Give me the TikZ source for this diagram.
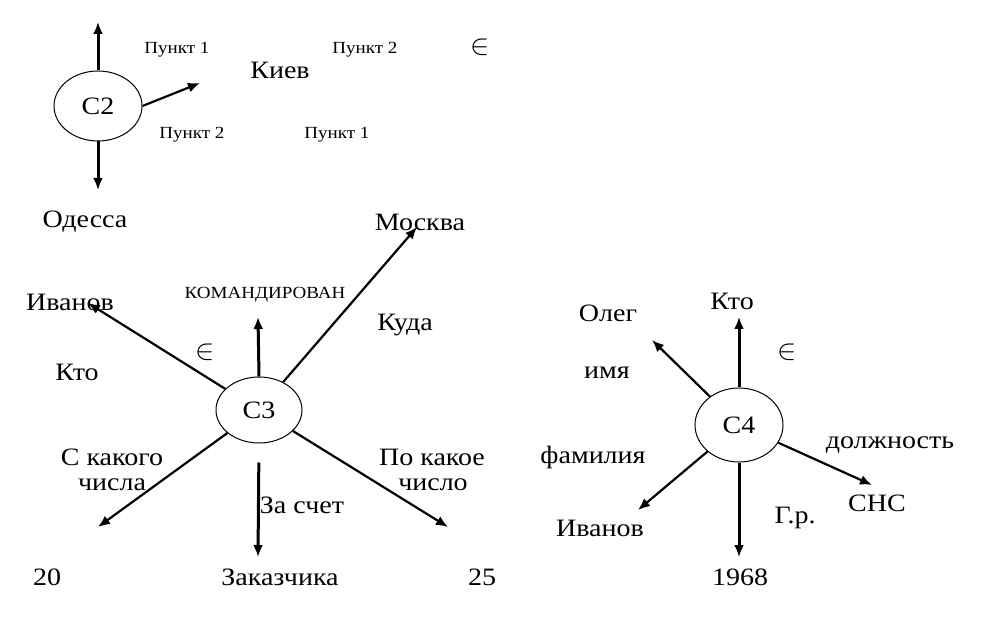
\documentclass[tikz,border=0pt]{standalone}
\usepackage{fontspec}
\setmainfont[FakeStretch=1.12]{Liberation Serif}
\usetikzlibrary{shapes.geometric,arrows.meta}
\tikzset{
  big/.style={font=\fontsize{12.5}{14}\selectfont, inner sep=0pt},
  small/.style={font=\fontsize{8.5}{10}\selectfont, inner sep=0pt},
  elem/.style={font=\fontsize{15}{17}\selectfont, inner sep=0pt},
  sit/.style={ellipse, draw, line width=0.5pt, inner sep=0pt, font=\fontsize{12.5}{14}\selectfont},
  arr/.style={line width=1.5pt, -{Latex[length=6pt,width=5pt]}},
  thinarr/.style={line width=1.1pt, -{Latex[length=6pt,width=5pt]}},
}
\begin{document}
\begin{tikzpicture}[x=0.5pt,y=-0.5pt]
\useasboundingbox (0,0) rectangle (983,635);
% ---------- C2 ----------
\node[sit, minimum width=44pt, minimum height=35pt] (c2) at (98,106) {C2};
\coordinate (c2up) at (98,22);
\coordinate (c2down) at (98,190);
\coordinate (c2right) at (200,83);
\draw[arr] (c2.north) -- (c2up);
\draw[arr] (c2.south) -- (c2down);
\draw[thinarr] (c2.east) -- (c2right);
\node[small] (p1a) at (177,50) {Пункт 1};
\node[small] (p2a) at (365,50) {Пункт 2};
\node[big] (kiev) at (280,70) {Киев};
\node[elem] (in1) at (480,47) {$\in$};
\node[small] (p2b) at (192,135) {Пункт 2};
\node[small] (p1b) at (337,135) {Пункт 1};
\node[big] (odessa) at (85,222) {Одесса};
\node[big] (moskva) at (420,222) {Москва};
% ---------- C3 ----------
\node[sit, minimum width=43pt, minimum height=33pt] (c3) at (259,410) {C3};
\coordinate (c3ul) at (88,303);
\coordinate (c3up) at (258,317);
\coordinate (c3ur) at (417,227);
\coordinate (c3ll) at (98,527);
\coordinate (c3down) at (258,557);
\coordinate (c3lr) at (448,527);
\draw[thinarr] (c3) -- (c3ul);
\draw[arr] (c3.north) -- (c3up);
\draw[thinarr] (c3) -- (c3ur);
\draw[thinarr] (c3) -- (c3ll);
\draw[arr, shorten <=9.5pt] (c3.south) -- (c3down);
\draw[thinarr] (c3) -- (c3lr);
\node[big] (ivanov1) at (70,302) {Иванов};
\node[small] (kom) at (265,295) {КОМАНДИРОВАН};
\node[big] (kuda) at (405,325) {Куда};
\node[elem] (in2) at (205,352) {$\in$};
\node[big] (kto1) at (77,372) {Кто};
\node[big] (skak) at (112,457) {С какого};
\node[big] (chisla) at (112,485) {числа};
\node[big] (zaschet) at (302,505) {За счет};
\node[big] (pokak) at (432,457) {По какое};
\node[big] (chislo) at (433,485) {число};
\node[big] (n20) at (47,577) {20};
\node[big] (zak) at (280,577) {Заказчика};
\node[big] (n25) at (482,577) {25};
% ---------- C4 ----------
\node[sit, minimum width=44pt, minimum height=37pt] (c4) at (739,425) {C4};
\coordinate (c4up) at (739,317);
\coordinate (c4ul) at (652,340);
\coordinate (c4r) at (872,485);
\coordinate (c4ll) at (638,510);
\coordinate (c4down) at (739,557);
\draw[arr] (c4.north) -- (c4up);
\draw[thinarr] (c4) -- (c4ul);
\draw[thinarr] (c4) -- (c4r);
\draw[thinarr] (c4) -- (c4ll);
\draw[arr] (c4.south) -- (c4down);
\node[big] (kto2) at (732,301) {Кто};
\node[big] (oleg) at (608,313) {Олег};
\node[elem] (in3) at (787,352) {$\in$};
\node[big] (imya) at (607,373) {имя};
\node[big] (dolzh) at (890,445) {должность};
\node[big] (sns) at (877,503) {СНС};
\node[big] (fam) at (593,457) {фамилия};
\node[big] (ivanov2) at (600,528) {Иванов};
\node[big] (gr) at (795,518) {Г.р.};
\node[big] (y1968) at (740,577) {1968};
\end{tikzpicture}
\end{document}
